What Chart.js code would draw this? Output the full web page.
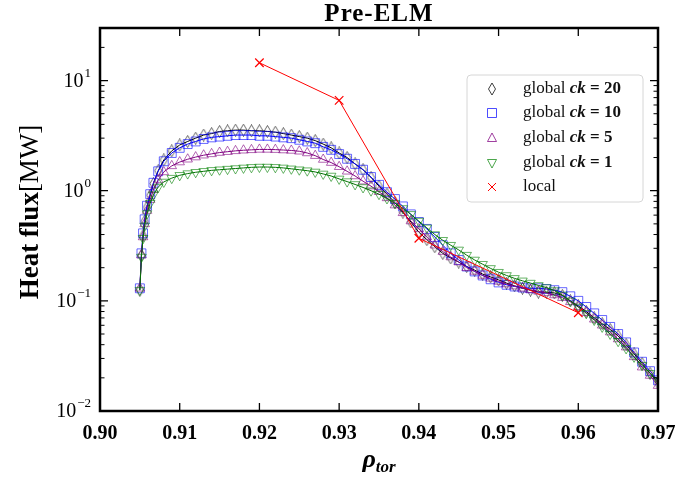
<!DOCTYPE html>
<html>
<head>
<meta charset="utf-8">
<script src="https://cdn.jsdelivr.net/npm/chart.js@4"></script>
<style>
  body { margin: 0; background: #fff; }
  canvas { display: block; }
</style>
</head>
<body>
<canvas id="heatChart" width="678" height="479"></canvas>
<script>
// rho_tor positions shared by the four global runs
const rho = [0.905, 0.9052, 0.9054, 0.9056, 0.9059, 0.9063, 0.9067, 0.9073,
  0.908, 0.909, 0.910, 0.911, 0.912, 0.913, 0.914, 0.915, 0.916, 0.917, 0.918, 0.919,
  0.920, 0.921, 0.922, 0.923, 0.924, 0.925, 0.926, 0.927, 0.928, 0.929,
  0.930, 0.931, 0.932, 0.933, 0.934, 0.935, 0.936, 0.937, 0.938, 0.939,
  0.940, 0.941, 0.942, 0.943, 0.944, 0.945, 0.946, 0.947, 0.948, 0.949,
  0.950, 0.951, 0.952, 0.953, 0.954, 0.955, 0.956, 0.957, 0.958, 0.959,
  0.960, 0.961, 0.962, 0.963, 0.964, 0.965, 0.966, 0.967, 0.968, 0.969, 0.970];

const ck20 = [0.125, 0.26, 0.39, 0.53, 0.71, 0.91, 1.16, 1.52,
  1.9, 2.3, 2.6, 2.8, 3.0, 3.2, 3.3, 3.45, 3.5, 3.55, 3.55, 3.5,
  3.5, 3.45, 3.4, 3.3, 3.2, 3.1, 3.0, 2.85, 2.65, 2.45,
  2.2, 2.0, 1.75, 1.55, 1.32, 1.1, 0.93, 0.78, 0.64, 0.52,
  0.42, 0.36, 0.31, 0.27, 0.245, 0.225, 0.205, 0.19, 0.175, 0.165,
  0.155, 0.145, 0.137, 0.13, 0.125, 0.12, 0.12, 0.118, 0.112, 0.1,
  0.09, 0.08, 0.07, 0.062, 0.055, 0.048, 0.04, 0.033, 0.027, 0.022, 0.018];

const ck10 = [0.13, 0.27, 0.41, 0.55, 0.73, 0.93, 1.18, 1.5,
  1.85, 2.2, 2.45, 2.65, 2.8, 2.95, 3.05, 3.1, 3.15, 3.2, 3.2, 3.2,
  3.15, 3.15, 3.1, 3.05, 3.0, 2.9, 2.8, 2.7, 2.5, 2.35,
  2.15, 1.95, 1.75, 1.55, 1.33, 1.13, 0.97, 0.84, 0.72, 0.61,
  0.52, 0.45, 0.38, 0.32, 0.27, 0.235, 0.205, 0.185, 0.17, 0.157,
  0.147, 0.14, 0.135, 0.132, 0.13, 0.13, 0.128, 0.125, 0.12, 0.11,
  0.1, 0.088, 0.077, 0.067, 0.058, 0.05, 0.042, 0.034, 0.028, 0.023, 0.019];

const ck5 = [0.13, 0.26, 0.38, 0.5, 0.66, 0.83, 1.02, 1.25,
  1.48, 1.68, 1.82, 1.93, 2.02, 2.1, 2.16, 2.22, 2.26, 2.3, 2.33, 2.35,
  2.37, 2.37, 2.36, 2.34, 2.32, 2.28, 2.2, 2.08, 1.92, 1.8,
  1.65, 1.5, 1.36, 1.22, 1.1, 0.98, 0.86, 0.74, 0.63, 0.53,
  0.45, 0.38, 0.32, 0.28, 0.25, 0.225, 0.2, 0.185, 0.17, 0.16,
  0.15, 0.142, 0.136, 0.13, 0.126, 0.122, 0.118, 0.113, 0.107, 0.098,
  0.088, 0.078, 0.068, 0.06, 0.052, 0.045, 0.038, 0.031, 0.025, 0.021, 0.017];

const ck1 = [0.125, 0.25, 0.37, 0.48, 0.62, 0.77, 0.92, 1.08,
  1.2, 1.3, 1.38, 1.43, 1.47, 1.5, 1.53, 1.55, 1.57, 1.59, 1.61, 1.63,
  1.64, 1.64, 1.63, 1.61, 1.58, 1.55, 1.52, 1.48, 1.42, 1.36,
  1.28, 1.21, 1.14, 1.07, 1.0, 0.93, 0.85, 0.77, 0.69, 0.61,
  0.53, 0.46, 0.4, 0.355, 0.32, 0.29, 0.26, 0.235, 0.215, 0.197,
  0.182, 0.17, 0.16, 0.152, 0.145, 0.138, 0.132, 0.124, 0.113, 0.1,
  0.088, 0.077, 0.067, 0.058, 0.05, 0.043, 0.037, 0.031, 0.026, 0.022, 0.019];

// local calculation
const localRho = [0.92, 0.93, 0.94, 0.96];
const localFlux = [14.5, 6.6, 0.37, 0.078];

const ckValues = ['20', '10', '5', '1'];
const xTickValues = [0.90, 0.91, 0.92, 0.93, 0.94, 0.95, 0.96, 0.97];
const xTickLabels = ['0.90', '0.91', '0.92', '0.93', '0.94', '0.95', '0.96', '0.97'];
const yTickValues = [0.01, 0.1, 1, 10];
const yTickExps = ['\u22122', '\u22121', '0', '1'];

const SERIF = '"Liberation Serif", "DejaVu Serif", serif';

// thin hollow diamond used for ck = 20
const diamond = document.createElement('canvas');
diamond.width = 9;
diamond.height = 13;
{
  const d = diamond.getContext('2d');
  d.strokeStyle = 'rgba(0,0,0,0.6)';
  d.lineWidth = 1;
  d.beginPath();
  d.moveTo(4.5, 0.5);
  d.lineTo(8, 6.5);
  d.lineTo(4.5, 12.5);
  d.lineTo(1, 6.5);
  d.closePath();
  d.stroke();
}

const toPoints = (xs, ys) => xs.map((x, i) => ({ x: x, y: ys[i] }));

function series(values, line, marker, style, radius, rotation, order) {
  return {
    data: toPoints(rho, values),
    showLine: true,
    borderColor: line,
    borderWidth: 1,
    pointStyle: style,
    pointRadius: radius,
    pointRotation: rotation,
    pointBorderColor: marker,
    pointBackgroundColor: 'rgba(0,0,0,0)',
    pointBorderWidth: 1,
    order: order
  };
}

function legendMarker(ctx, kind, x, y, color) {
  ctx.save();
  ctx.strokeStyle = color;
  ctx.lineWidth = 1;
  ctx.beginPath();
  if (kind === 'diamond') {
    ctx.moveTo(x, y - 6); ctx.lineTo(x + 3.5, y); ctx.lineTo(x, y + 6); ctx.lineTo(x - 3.5, y); ctx.closePath();
  } else if (kind === 'square') {
    ctx.rect(x - 4.5, y - 4.5, 9, 9);
  } else if (kind === 'up') {
    ctx.moveTo(x, y - 5); ctx.lineTo(x + 4.5, y + 3.5); ctx.lineTo(x - 4.5, y + 3.5); ctx.closePath();
  } else if (kind === 'down') {
    ctx.moveTo(x, y + 5); ctx.lineTo(x + 4.5, y - 3.5); ctx.lineTo(x - 4.5, y - 3.5); ctx.closePath();
  } else {
    ctx.moveTo(x - 4, y - 4); ctx.lineTo(x + 4, y + 4);
    ctx.moveTo(x + 4, y - 4); ctx.lineTo(x - 4, y + 4);
  }
  ctx.stroke();
  ctx.restore();
}

// frame, inward ticks, labels, title and legend in matplotlib style
const axesPlugin = {
  id: 'axesPlugin',
  afterDraw(chart) {
    const { ctx, chartArea: a, scales: { x, y } } = chart;
    ctx.save();
    ctx.strokeStyle = '#000';
    ctx.lineWidth = 1.3;
    ctx.beginPath();
    xTickValues.forEach((v) => {
      const px = x.getPixelForValue(v);
      ctx.moveTo(px, a.bottom); ctx.lineTo(px, a.bottom - 8);
      ctx.moveTo(px, a.top); ctx.lineTo(px, a.top + 8);
    });
    yTickValues.forEach((v) => {
      const py = y.getPixelForValue(v);
      ctx.moveTo(a.left, py); ctx.lineTo(a.left + 8, py);
      ctx.moveTo(a.right, py); ctx.lineTo(a.right - 8, py);
    });
    ctx.stroke();
    ctx.lineWidth = 1;
    ctx.beginPath();
    for (let e = -2; e <= 1; e++) {
      for (let m = 2; m <= 9; m++) {
        const v = m * Math.pow(10, e);
        if (v > y.max) continue;
        const py = y.getPixelForValue(v);
        ctx.moveTo(a.left, py); ctx.lineTo(a.left + 4.5, py);
        ctx.moveTo(a.right, py); ctx.lineTo(a.right - 4.5, py);
      }
    }
    ctx.stroke();
    ctx.lineWidth = 2.5;
    ctx.strokeRect(a.left, a.top, a.right - a.left, a.bottom - a.top);

    ctx.fillStyle = '#000';
    // x tick labels
    ctx.font = 'bold 20px ' + SERIF;
    ctx.textAlign = 'center';
    ctx.textBaseline = 'middle';
    xTickValues.forEach((v, i) => {
      ctx.fillText(xTickLabels[i], x.getPixelForValue(v), a.bottom + 23);
    });
    // y tick labels 10^k
    yTickValues.forEach((v, i) => {
      const py = y.getPixelForValue(v);
      ctx.textAlign = 'left';
      ctx.font = '13px ' + SERIF;
      const ew = ctx.measureText(yTickExps[i]).width;
      ctx.fillText(yTickExps[i], 91 - ew, py - 7);
      ctx.font = '20px ' + SERIF;
      ctx.textAlign = 'right';
      ctx.fillText('10', 91 - ew - 1, py + 1);
    });

    // title
    ctx.textAlign = 'center';
    ctx.textBaseline = 'alphabetic';
    ctx.font = 'bold 25px ' + SERIF;
    ctx.letterSpacing = '1px';
    ctx.fillText('Pre-ELM', (a.left + a.right) / 2, 21);
    ctx.letterSpacing = '0px';

    // x axis label rho_tor
    ctx.textAlign = 'left';
    ctx.font = 'italic bold 26px ' + SERIF;
    const rw = ctx.measureText('\u03c1').width;
    ctx.font = 'italic bold 17px ' + SERIF;
    const tw = ctx.measureText('tor').width;
    const x0 = (a.left + a.right) / 2 - (rw + tw) / 2;
    ctx.font = 'italic bold 26px ' + SERIF;
    ctx.fillText('\u03c1', x0, 467);
    ctx.font = 'italic bold 17px ' + SERIF;
    ctx.fillText('tor', x0 + rw, 472);

    // y axis label
    ctx.save();
    ctx.translate(38, 212);
    ctx.rotate(-Math.PI / 2);
    ctx.font = 'bold 27px ' + SERIF;
    const hw = ctx.measureText('Heat flux').width;
    ctx.font = '27px ' + SERIF;
    const mw = ctx.measureText('[MW]').width;
    const s0 = -(hw + mw) / 2;
    ctx.font = 'bold 27px ' + SERIF;
    ctx.fillText('Heat flux', s0, 0);
    ctx.font = '27px ' + SERIF;
    ctx.fillText('[MW]', s0 + hw, 0);
    ctx.restore();

    // legend
    const lx = 467, ly = 75, lw = 176, lh = 127;
    ctx.beginPath();
    ctx.roundRect(lx, ly, lw, lh, 4);
    ctx.fillStyle = 'rgba(255,255,255,0.85)';
    ctx.fill();
    ctx.strokeStyle = '#d6d6d6';
    ctx.lineWidth = 1;
    ctx.stroke();

    const kinds = ['diamond', 'square', 'up', 'down'];
    const colors = ['rgba(0,0,0,0.75)', 'rgba(0,0,255,0.7)', 'rgba(128,0,128,0.75)', 'rgba(0,128,0,0.7)'];
    const rows = [89, 113, 138, 163, 187];
    ctx.textBaseline = 'middle';
    ctx.textAlign = 'left';
    ckValues.forEach((ck, i) => {
      const ry = rows[i];
      legendMarker(ctx, kinds[i], 492, ry, colors[i]);
      let tx = 523;
      ctx.fillStyle = '#111';
      ctx.font = '17px ' + SERIF;
      ctx.fillText('global ', tx, ry);
      tx += ctx.measureText('global ').width;
      ctx.font = 'italic bold 17px ' + SERIF;
      ctx.fillText('ck', tx, ry);
      tx += ctx.measureText('ck').width;
      ctx.font = 'bold 17px ' + SERIF;
      ctx.fillText(' = ' + ck, tx, ry);
    });
    legendMarker(ctx, 'cross', 492, rows[4], '#ff0000');
    ctx.fillStyle = '#111';
    ctx.font = '17px ' + SERIF;
    ctx.fillText('local', 523, rows[4]);
    ctx.restore();
  }
};

new Chart(document.getElementById('heatChart'), {
  type: 'scatter',
  data: {
    datasets: [
      series(ck20, '#000000', 'rgba(0,0,0,0.6)', diamond, 5, 0, 5),
      series(ck10, '#0000ff', 'rgba(0,0,255,0.6)', 'rect', 6.3, 0, 4),
      series(ck5, '#800080', 'rgba(128,0,128,0.6)', 'triangle', 5.5, 0, 3),
      series(ck1, '#007000', 'rgba(0,128,0,0.6)', 'triangle', 5.5, 180, 2),
      {
        data: toPoints(localRho, localFlux),
        showLine: true,
        borderColor: '#ff0000',
        borderWidth: 1,
        pointStyle: 'crossRot',
        pointRadius: 6,
        pointBorderColor: '#ff0000',
        pointBorderWidth: 1.2,
        order: 1
      }
    ]
  },
  options: {
    responsive: false,
    animation: false,
    layout: { padding: { top: 28, right: 20, left: 0, bottom: 0 } },
    plugins: {
      legend: { display: false },
      title: { display: false },
      tooltip: { enabled: false }
    },
    scales: {
      x: {
        type: 'linear',
        min: 0.9,
        max: 0.97,
        ticks: { display: false, stepSize: 0.01 },
        grid: { display: false },
        border: { display: false },
        afterFit: (s) => { s.height = 68; }
      },
      y: {
        type: 'logarithmic',
        min: 0.01,
        max: 30,
        ticks: { display: false },
        grid: { display: false },
        border: { display: false },
        afterFit: (s) => { s.width = 100; }
      }
    }
  },
  plugins: [axesPlugin]
});
</script>
</body>
</html>
